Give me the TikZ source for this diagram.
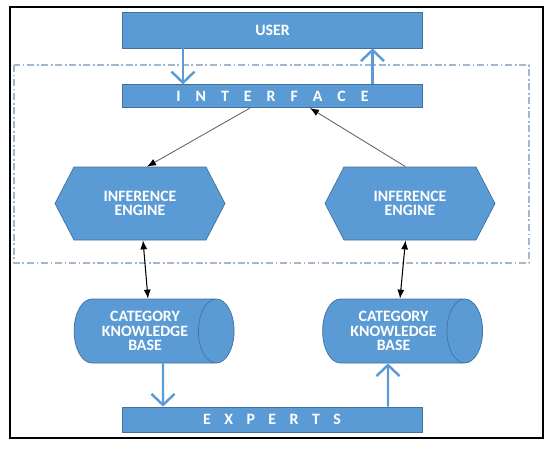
\documentclass[tikz,border=0pt]{standalone}
\usepackage{fontspec}
\setmainfont{Carlito}
\usetikzlibrary{positioning,shapes.geometric,shapes.symbols,arrows.meta}
\definecolor{boxblue}{HTML}{5B9BD5}
\definecolor{edgeblue}{HTML}{41719C}
\definecolor{dashgray}{HTML}{A3B8CC}

\begin{document}
\begin{tikzpicture}[every node/.style={font=\bfseries\fontsize{9}{8.3}\selectfont, align=center, text=white},
  bar/.style={draw=edgeblue, fill=boxblue, minimum width=6cm},
  engine/.style={draw=edgeblue, fill=boxblue, signal, signal to=west and east, signal pointer angle=125, minimum width=3.4cm, minimum height=1.46cm, inner sep=0pt},
  kbase/.style={draw=edgeblue, cylinder, shape aspect=0.9, cylinder uses custom fill, cylinder body fill=boxblue, cylinder end fill=boxblue, minimum width=1.28cm, minimum height=3.2cm, inner sep=0pt},
  bigarrow/.style={draw=boxblue, line width=1.4pt, -{Straight Barb[length=2.2mm, width=4.6mm]}},
  link/.style={draw=black!60, line width=0.5pt, -{Latex[length=1.8mm, width=1.4mm, color=black]}},
  both/.style={draw=black, line width=0.6pt, {Latex[length=1.8mm, width=1.4mm]}-{Latex[length=1.8mm, width=1.4mm]}}]
\useasboundingbox (0,0) rectangle (11,-8.98);
\draw[line width=1pt] (0.2,-0.14) rectangle (10.86,-8.76);
\draw[dashgray, line width=0.6pt, dash pattern=on 4pt off 1.5pt on 1pt off 1.5pt] (0.28,-1.3) rectangle (10.58,-5.26);

\node[bar, minimum height=0.72cm] (user) at (5.45,-0.6) {USER};
\node[bar, minimum height=0.46cm, below=0.72cm of user] (interface) {\spaceskip=0.3cm I N T E R F A C E};
\node[engine] (engL) at (2.8,-4.07) {INFERENCE\\ENGINE};
\node[engine] (engR) at (8.2,-4.07) {INFERENCE\\ENGINE};
\node[kbase] (kbL) at (2.9,-6.62) {CATEGORY\\KNOWLEDGE\\BASE};
\node[kbase] (kbR) at (7.87,-6.62) {CATEGORY\\KNOWLEDGE\\BASE};
\node[bar, minimum height=0.5cm] (experts) at (5.44,-8.39) {\spaceskip=0.27cm E X P E R T S};

\draw[bigarrow] ([xshift=-1.79cm]user.south) -- ([xshift=-1.79cm]interface.north);
\draw[bigarrow] ([xshift=2cm]interface.north) -- ([xshift=2cm]user.south);
\draw[link] ([xshift=-0.45cm]interface.south) -- ([xshift=0.14cm]engL.north);
\draw[link] ([xshift=-0.09cm]engR.north) -- ([xshift=0.75cm]interface.south);
\draw[both] ([xshift=0.06cm]engL.south) -- ([xshift=0.06cm]kbL.north);
\draw[both] ([xshift=-0.09cm]engR.south) -- ([xshift=0.13cm]kbR.north);
\draw[bigarrow] ([xshift=0.36cm]kbL.south) -- ([xshift=-2.18cm]experts.north);
\draw[bigarrow] ([xshift=2.32cm]experts.north) -- ([xshift=-0.11cm]kbR.south);
\end{tikzpicture}
\end{document}
